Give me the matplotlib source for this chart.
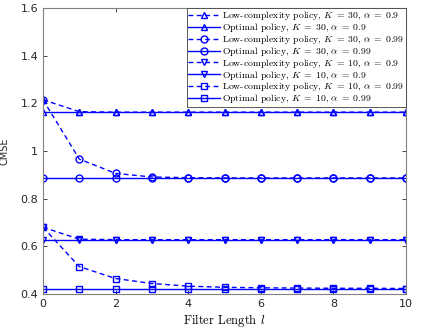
import matplotlib
matplotlib.use("Agg")
import matplotlib.pyplot as plt
from matplotlib.ticker import FixedLocator, FixedFormatter

plt.rcParams['mathtext.fontset'] = 'cm'

l = list(range(11))
low_30_09 = [1.215, 1.165, 1.163, 1.163, 1.163, 1.163, 1.163, 1.163, 1.163, 1.163, 1.163]
opt_30_09 = [1.163] * 11
low_30_099 = [1.215, 0.966, 0.906, 0.891, 0.888, 0.887, 0.887, 0.887, 0.887, 0.887, 0.887]
opt_30_099 = [0.887] * 11
low_10_09 = [0.680, 0.630, 0.628, 0.628, 0.628, 0.628, 0.628, 0.628, 0.628, 0.628, 0.628]
opt_10_09 = [0.628] * 11
low_10_099 = [0.680, 0.515, 0.465, 0.444, 0.433, 0.428, 0.426, 0.425, 0.424, 0.424, 0.423]
opt_10_099 = [0.423] * 11

labels = [
    r'Low-complexity policy, $K\;=\;30,\,\alpha\;=\;0.9$',
    r'Optimal policy, $K\;=\;30,\,\alpha\;=\;0.9$',
    r'Low-complexity policy, $K\;=\;30,\,\alpha\;=\;0.99$',
    r'Optimal policy, $K\;=\;30,\,\alpha\;=\;0.99$',
    r'Low-complexity policy, $K\;=\;10,\,\alpha\;=\;0.9$',
    r'Optimal policy, $K\;=\;10,\,\alpha\;=\;0.9$',
    r'Low-complexity policy, $K\;=\;10,\,\alpha\;=\;0.99$',
    r'Optimal policy, $K\;=\;10,\,\alpha\;=\;0.99$',
]
series = [low_30_09, opt_30_09, low_30_099, opt_30_099, low_10_09, opt_10_09, low_10_099, opt_10_099]
markers = ['^', '^', 'o', 'o', 'v', 'v', 's', 's']
styles = ['--', '-', '--', '-', '--', '-', '--', '-']

fig = plt.figure(figsize=(4.23, 3.31), dpi=100)
ax = fig.add_axes([43/423, 1 - 294/331, (406-43)/423, (294-8)/331])

for y, m, ls, lab in zip(series, markers, styles, labels):
    ax.plot(l, y, color='#0000ff', linestyle=ls, marker=m, markersize=5,
            markerfacecolor='none', markeredgewidth=1.0, linewidth=1.0, label=lab,
            dashes=(3.5, 2.5) if ls == '--' else (None, None))

ax.set_xlim(0, 10)
ax.set_ylim(0.4, 1.6)
ax.xaxis.set_major_locator(FixedLocator([0, 2, 4, 6, 8, 10]))
ax.yaxis.set_major_locator(FixedLocator([0.4, 0.6, 0.8, 1.0, 1.2, 1.4, 1.6]))
ax.yaxis.set_major_formatter(FixedFormatter(['0.4', '0.6', '0.8', '1', '1.2', '1.4', '1.6']))
ax.tick_params(direction='in', top=True, right=True, labelsize=8, colors='#262626',
               length=3, width=0.6)
for sp in ax.spines.values():
    sp.set_color('#808080')
    sp.set_linewidth(0.8)

ax.set_xlabel(r'Filter Length $l$', fontsize=9, family='cmr10', labelpad=2)
ax.set_ylabel('CMSE', fontsize=7, color='#262626', labelpad=8)

leg = ax.legend(loc='upper right', prop={'family': 'cmr10', 'size': 7.0},
                handlelength=3.2, handletextpad=0.3, borderpad=0.15,
                labelspacing=-0.12, fancybox=False, framealpha=1,
                edgecolor='#404040', borderaxespad=0)
leg.get_frame().set_linewidth(0.6)

fig.savefig('out.png', dpi=100)
